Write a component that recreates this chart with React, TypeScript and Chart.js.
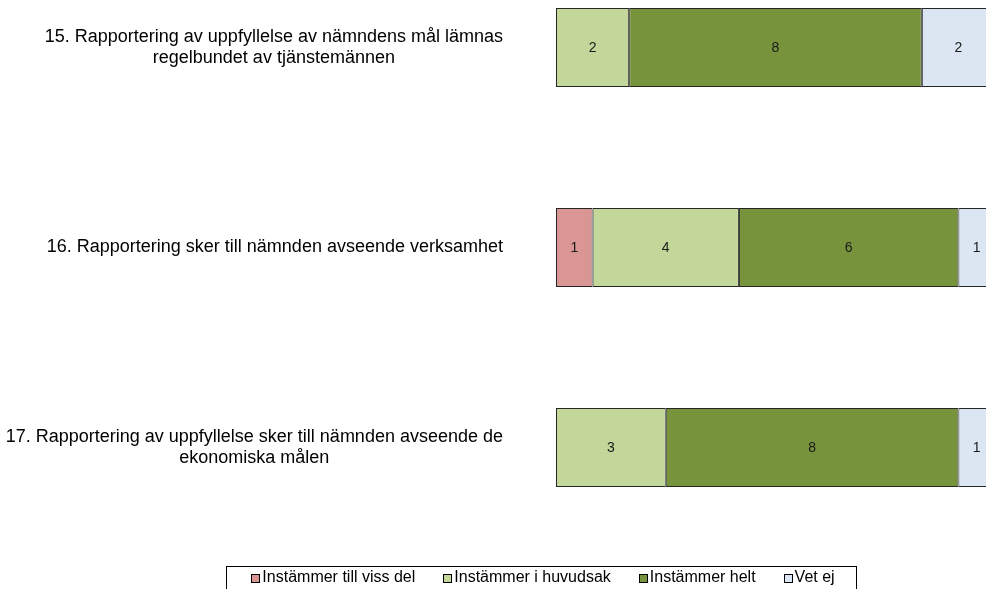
import React, { useEffect, useRef } from "react";
import { Chart, registerables } from "chart.js";

Chart.register(...registerables);

// ---- data ----
const categories: string[][] = [
  ["15. Rapportering av uppfyllelse av nämndens mål lämnas", "regelbundet av tjänstemännen"],
  ["16. Rapportering sker till nämnden avseende verksamhet"],
  ["17. Rapportering av uppfyllelse sker till nämnden avseende de", "ekonomiska målen"],
];
const seriesNames = ["Instämmer till viss del", "Instämmer i huvudsak", "Instämmer helt", "Vet ej"];
const tillVissDel = [0, 1, 0];
const iHuvudsak = [2, 4, 3];
const helt = [8, 6, 8];
const vetEj = [2, 1, 1];
const seriesColors = ["#D99694", "#C4D79B", "#77933C", "#DCE6F2"];
const xMax = 12;

const FONT = '"Liberation Sans", Arial, sans-serif';
const CANVAS_TOP = -60;

const labelPlugin = {
  id: "catLabels",
  afterDraw(chart: any) {
    const ctx = chart.ctx;
    const yScale = chart.scales.y;
    ctx.save();
    ctx.font = `18px ${FONT}`;
    ctx.fillStyle = "#000";
    ctx.textBaseline = "middle";
    ctx.textAlign = "center";
    const right = 503;
    const lh = 21;
    categories.forEach((lines, i) => {
      const cy = yScale.getPixelForValue(i);
      const maxW = Math.max(...lines.map((l) => ctx.measureText(l).width));
      const cx = right - maxW / 2;
      lines.forEach((l, j) => {
        ctx.fillText(l, cx, cy - ((lines.length - 1) * lh) / 2 + j * lh);
      });
    });
    ctx.restore();
  },
};

const valuePlugin = {
  id: "values",
  afterDatasetsDraw(chart: any) {
    const ctx = chart.ctx;
    ctx.save();
    ctx.font = `14px ${FONT}`;
    ctx.fillStyle = "#1a1a1a";
    ctx.textAlign = "center";
    ctx.textBaseline = "middle";
    chart.data.datasets.forEach((ds: any, di: number) => {
      const meta = chart.getDatasetMeta(di);
      meta.data.forEach((el: any, i: number) => {
        const v = ds.data[i];
        if (!v) return;
        ctx.fillText(String(v), (el.x + el.base) / 2, el.y + 1);
      });
    });
    ctx.restore();
  },
};

const legendPlugin = {
  id: "boxLegend",
  afterDraw(chart: any) {
    const ctx = chart.ctx;
    ctx.save();
    const top = 566 - CANVAS_TOP;
    const boxL = 226.5;
    const boxR = 856.5;
    ctx.fillStyle = "#fff";
    ctx.fillRect(boxL, top + 0.5, boxR - boxL, 30);
    ctx.strokeStyle = "#000";
    ctx.lineWidth = 1;
    ctx.strokeRect(boxL, top + 0.5, boxR - boxL, 30);
    ctx.font = `16px ${FONT}`;
    ctx.textBaseline = "middle";
    ctx.textAlign = "left";
    const marker = 8;
    const tgap = 3;
    const gap = 28;
    const widths = seriesNames.map((n) => marker + tgap + ctx.measureText(n).width);
    const total = widths.reduce((a, b) => a + b, 0) + gap * (widths.length - 1);
    let x = 543 - total / 2;
    const cy = 578 - CANVAS_TOP;
    seriesNames.forEach((n, i) => {
      const mx = Math.round(x) + 0.5;
      const my = Math.round(cy - marker / 2) + 0.5;
      ctx.fillStyle = seriesColors[i];
      ctx.fillRect(mx, my, marker, marker);
      ctx.strokeStyle = "#000";
      ctx.strokeRect(mx, my, marker, marker);
      ctx.fillStyle = "#000";
      ctx.fillText(n, x + marker + tgap, cy);
      x += widths[i] + gap;
    });
    ctx.restore();
  },
};

export default function App() {
  const ref = useRef<HTMLCanvasElement>(null);
  useEffect(() => {
    if (!ref.current) return;
    const seriesData = [tillVissDel, iHuvudsak, helt, vetEj];
    const chart = new Chart(ref.current, {
      type: "bar",
      data: {
        labels: categories.map((c) => c.join(" ")),
        datasets: seriesNames.map((name, i) => ({
          label: name,
          data: seriesData[i],
          backgroundColor: seriesColors[i],
          borderColor: "#262626",
          borderWidth: 1,
          borderSkipped: false,
          barPercentage: 0.395,
          categoryPercentage: 1,
        })),
      },
      options: {
        indexAxis: "y",
        responsive: false,
        animation: false,
        devicePixelRatio: 1,
        layout: { padding: { left: 556, right: 5, top: 7.5, bottom: 72.5 } },
        scales: {
          x: { stacked: true, min: 0, max: xMax, display: false },
          y: { stacked: true, display: false },
        },
        plugins: {
          legend: { display: false },
          tooltip: { enabled: false },
        },
      },
      plugins: [labelPlugin, valuePlugin, legendPlugin],
    } as any);
    return () => chart.destroy();
  }, []);
  return (
    <div
      style={{
        position: "fixed",
        left: 0,
        top: 0,
        width: 986,
        height: 589,
        overflow: "hidden",
        background: "#fff",
      }}
    >
      <canvas
        ref={ref}
        width={1000}
        height={680}
        style={{ position: "absolute", left: 0, top: CANVAS_TOP, width: 1000, height: 680 }}
      />
    </div>
  );
}
